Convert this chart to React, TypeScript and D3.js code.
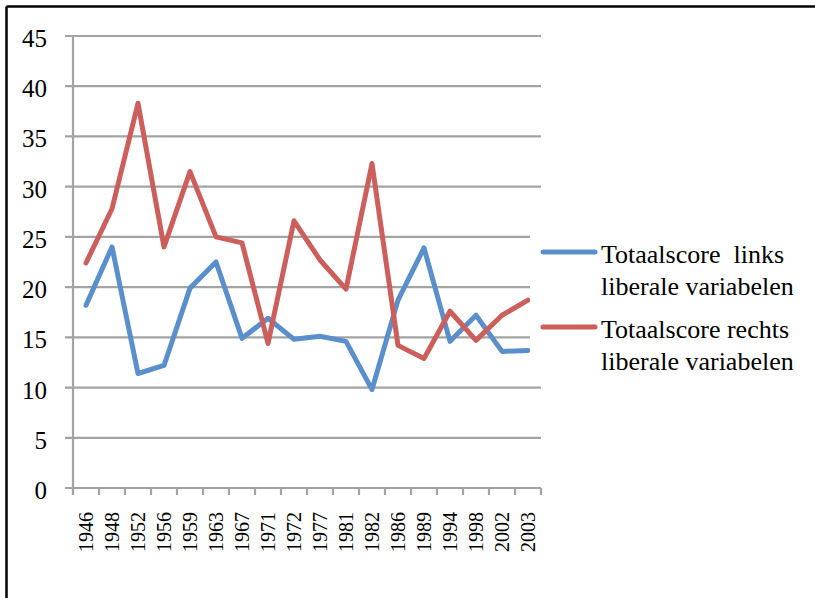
import React, { useEffect, useRef } from "react";
import * as d3 from "d3";

const years = ["1946","1948","1952","1956","1959","1963","1967","1971","1972","1977","1981","1982","1986","1989","1994","1998","2002","2003"];
const linksValues = [18.2,24.0,11.4,12.2,19.9,22.5,14.9,16.9,14.8,15.1,14.6,9.8,18.7,23.9,14.6,17.2,13.6,13.7];
const rechtsValues = [22.4,27.8,38.3,24.0,31.5,25.0,24.4,14.4,26.6,22.7,19.8,32.3,14.2,12.9,17.6,14.7,17.2,18.7];
const yTicks = [0,5,10,15,20,25,30,35,40,45];
const seriesNames = [["Totaalscore  links", "liberale variabelen"], ["Totaalscore rechts", "liberale variabelen"]];
const seriesColors = ["#5A8FCB", "#CC5F5C"];

const FONT = "'Liberation Serif', 'Times New Roman', serif";

export default function App() {
  const W = 815, H = 598;
  const left = 73, right = 541, top = 36, bottom = 488;
  const x = d3.scaleBand<string>().domain(years).range([left, right]);
  const y = d3.scaleLinear().domain([0, 45]).range([bottom, top]);
  const line = d3.line<number>()
    .x((_, i) => (x(years[i]) as number) + x.bandwidth() / 2)
    .y((d) => y(d));
  const series = [linksValues, rechtsValues];
  const grid = "#A3A3A3";
  const boundaries = years.map((yr) => x(yr) as number).concat([right]);
  const ref = useRef<SVGSVGElement>(null);

  useEffect(() => {
    if (!ref.current) return;
    d3.select(ref.current).selectAll<SVGTextElement, unknown>("text").each(function () {
      this.style.setProperty("font-family", FONT, "important");
    });
  }, []);

  return (
    <svg ref={ref} width={W} height={H} style={{ position: "absolute", left: 0, top: 0, background: "#fff" }}>
      <style>{`text { font-family: ${FONT} !important; }`}</style>
      <rect x={0} y={0} width={W} height={H} fill="#fff" />
      <line x1={6.5} y1={6.5} x2={W} y2={6.5} stroke="#000" strokeWidth={2.5} />
      <line x1={6.5} y1={6.5} x2={6.5} y2={H} stroke="#000" strokeWidth={2.5} />
      {yTicks.map((t) => (
        <line key={"g" + t} x1={65} x2={right} y1={y(t)} y2={y(t)} stroke={grid} strokeWidth={2.2} />
      ))}
      <line x1={left} x2={left} y1={top} y2={bottom + 7} stroke={grid} strokeWidth={2.2} />
      {boundaries.map((bx, i) => (
        <line key={"t" + i} x1={bx} x2={bx} y1={bottom} y2={bottom + 7} stroke={grid} strokeWidth={2.2} />
      ))}
      {yTicks.map((t) => (
        <text key={"yl" + t} x={47} y={y(t) + 11} textAnchor="end" fontFamily={FONT} fontSize={25}>
          {t}
        </text>
      ))}
      {years.map((yr) => (
        <text
          key={"xl" + yr}
          transform={`translate(${(x(yr) as number) + x.bandwidth() / 2},512) rotate(-90)`}
          textAnchor="end"
          dy="0.34em"
          fontFamily={FONT}
          fontSize={20}
        >
          {yr}
        </text>
      ))}
      {series.map((s, i) => (
        <path key={"s" + i} d={line(s) || ""} fill="none" stroke={seriesColors[i]} strokeWidth={5} strokeLinejoin="round" strokeLinecap="round" />
      ))}
      <rect x={530} y={205} width={280} height={165} fill="#fff" />
      {seriesNames.map((lines, i) => {
        const ly = 252 + i * 75;
        return (
          <g key={"lg" + i}>
            <line x1={543} x2={595} y1={ly} y2={ly} stroke={seriesColors[i]} strokeWidth={5} strokeLinecap="round" />
            {lines.map((t, j) => (
              <text key={j} x={601} y={ly + 11 + j * 32} fontFamily={FONT} fontSize={26} style={{ whiteSpace: "pre" }}>
                {t}
              </text>
            ))}
          </g>
        );
      })}
    </svg>
  );
}
